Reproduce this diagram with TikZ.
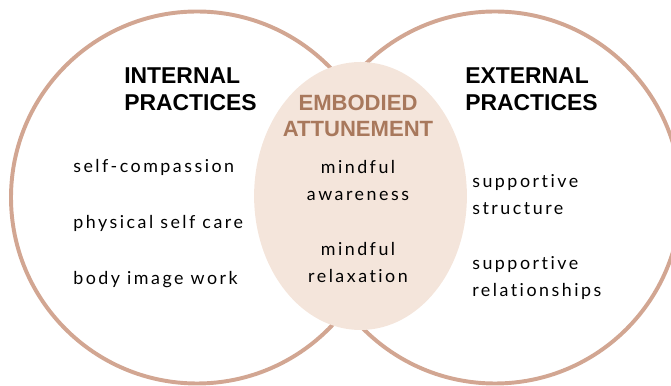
\documentclass[tikz,border=0pt]{standalone}
\usepackage{fontspec}
\setmainfont{Lato}[LetterSpace=14,RawFeature={-liga;-dlig}]
\newfontfamily\headfont{Liberation Sans}
\usetikzlibrary{shapes.geometric,positioning,calc}
\definecolor{ringline}{RGB}{210,166,146}
\definecolor{corefill}{RGB}{244,229,219}
\definecolor{coretext}{RGB}{168,120,92}

\begin{document}
\begin{tikzpicture}[
      practice/.style={
        circle,
        draw=ringline,
        line width=2.8pt,
        minimum size=9.3cm,
        inner sep=0pt
      },
      core/.style={
        ellipse,
        fill=corefill,
        draw=none,
        minimum width=5.32cm,
        minimum height=6.7cm
      },
      heading/.style={
        font=\headfont\fontsize{16.3}{19.9}\selectfont\bfseries,
        align=left,
        inner sep=0pt
      },
      coreheading/.style={
        font=\headfont\fontsize{15.7}{18.5}\selectfont\bfseries,
        text=coretext,
        align=center,
        inner sep=0pt
      },
      item/.style={
        font=\fontsize{12.7}{19.9}\selectfont,
        align=left,
        inner sep=0pt
      },
      coreitem/.style={
        font=\fontsize{12.7}{19.9}\selectfont,
        align=center,
        inner sep=0pt
      }
    ]
    \useasboundingbox (0,0) rectangle (16.775,9.65);

    % Circles
    \node[practice] (internal) at (4.925,4.7125) {};
    \node[practice] (external) at (12.375,4.7125) {};
    \node[core] (attunement) at (9.0125,4.75) {};

    % Column anchors (baseline of the last line)
    \coordinate (leftcol) at (1.825,5.325);
    \coordinate (rightcol) at (11.8,4.275);

    % Internal practices
    \node[heading, anchor=base west] (internaltitle) at (3.1,6.875)
      {INTERNAL\\PRACTICES};
    \node[item, anchor=base west] (compassion) at (leftcol)
      {self-compassion};
    \node[item, anchor=base west] (selfcare) at ($(leftcol)+(0,-1.4)$)
      {physical self care};
    \node[item, anchor=base west] (bodyimage) at ($(leftcol)+(0,-2.8)$)
      {body image work};

    % Embodied attunement
    \node[coreheading, anchor=base] (coretitle) at (8.95,6.225)
      {EMBODIED\\ATTUNEMENT};
    \node[coreitem, anchor=base] (awareness) at (8.95,4.625)
      {mindful\\awareness};
    \node[coreitem, anchor=base] (relaxation) at (8.95,2.575)
      {mindful\\relaxation};

    % External practices
    \node[heading, anchor=base west] (externaltitle) at (11.625,6.875)
      {EXTERNAL\\PRACTICES};
    \node[item, anchor=base west] (structure) at (rightcol)
      {supportive\\structure};
    \node[item, anchor=base west] (relationships) at ($(rightcol)+(0,-2.05)$)
      {supportive\\relationships};

\end{tikzpicture}
\end{document}
